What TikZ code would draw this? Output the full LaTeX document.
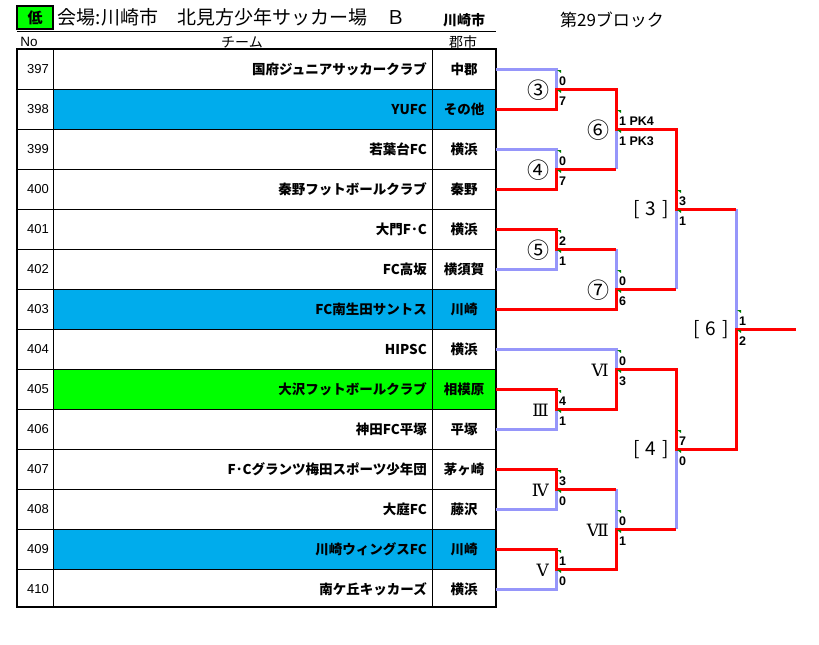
\documentclass[tikz,border=0pt]{standalone}
\usepackage{fontspec}
\setmainfont{Noto Sans CJK JP}
\newfontfamily\latinfont{Liberation Sans}
\newfontfamily\romfont{DejaVu Serif}
\usetikzlibrary{positioning}
\definecolor{rowblue}{RGB}{0,172,236}
\definecolor{rowgreen}{RGB}{0,255,0}
\definecolor{winred}{RGB}{255,0,0}
\definecolor{loselav}{RGB}{150,150,250}
\definecolor{tagdkgreen}{RGB}{0,128,0}

\begin{document}
\begin{tikzpicture}[x=1pt,y=-1pt,
  teamtxt/.style={anchor=east,inner sep=0pt,font=\fontsize{13.5}{15}\selectfont\bfseries},
  citytxt/.style={inner sep=0pt,font=\fontsize{13.5}{15}\selectfont\bfseries},
  notxt/.style={anchor=east,inner sep=0pt,font=\latinfont\fontsize{13}{15}\selectfont},
  score/.style={anchor=west,inner sep=0pt,font=\latinfont\fontsize{12.5}{14}\selectfont\bfseries},
  matchlbl/.style={anchor=east,inner sep=0pt,font=\fontsize{19}{21}\selectfont},
  win/.style={winred,line width=3pt},
  lose/.style={loselav,line width=3pt}]
\useasboundingbox (0,0) rectangle (819,645);
% Header
\node[draw,fill=rowgreen,line width=1.5pt,minimum width=36,minimum height=23,inner sep=0pt,
      font=\fontsize{15}{17}\selectfont\bfseries] (low) at (35,17.5) {低};
\node[right=4pt of low,inner sep=0pt,font=\fontsize{19}{21}\selectfont] (venue)
      {会場:川崎市　北見方少年サッカー場　Ｂ};
\node[citytxt,font=\fontsize{14}{16}\selectfont\bfseries] (hcity) at (464,20) {川崎市};
\draw (17,31) -- (496,31);
\node[font=\fontsize{17}{19}\selectfont] (block) at (612,20) {第29ブロック};
\node[font=\latinfont\fontsize{13.5}{15}\selectfont] (hno) at (29,42) {No};
\node[font=\fontsize{14}{16}\selectfont] (hteam) at (242,42) {チーム};
\node[font=\fontsize{14}{16}\selectfont] (harea) at (463,42) {郡市};
% Row colours
\foreach \i/\col in {2/rowblue,7/rowblue,9/rowgreen,13/rowblue} {
  \fill[\col] (53,9+40*\i) rectangle (496,49+40*\i);
}
% Table lines
\foreach \i in {1,...,13} {
  \draw (17,49+40*\i) -- (496,49+40*\i);
}
\draw (53,49) -- (53,607);
\draw (432,49) -- (432,607);
\draw[line width=1.2pt] (17,49) rectangle (496,607);
% Teams
\foreach \n/\t/\c [count=\i] in {
  397/国府ジュニアサッカークラブ/中郡, 398/YUFC/その他,
  399/若葉台FC/横浜, 400/秦野フットボールクラブ/秦野,
  401/大門F･C/横浜, 402/FC高坂/横須賀,
  403/FC南生田サントス/川崎, 404/HIPSC/横浜,
  405/大沢フットボールクラブ/相模原, 406/神田FC平塚/平塚,
  407/F･Cグランツ梅田スポーツ少年団/茅ヶ崎, 408/大庭FC/藤沢,
  409/川崎ウィングスFC/川崎, 410/南ケ丘キッカーズ/横浜} {
  \node[notxt] (no\n) at (49,29+40*\i) {\n};
  \node[teamtxt] (team\n) at (427,29+40*\i) {\t};
  \node[citytxt] (city\n) at (464,29+40*\i) {\c};
  \coordinate (e\n) at (496,29+40*\i);
}
% Match points
\foreach \m/\x/\y in {m3/556/89, m4/556/169, m5/556/249, m6/616/129, m7/616/289,
  k3/676/209, r3/556/409, r4/556/489, r5/556/569, r6/616/369, r7/616/529,
  k4/676/449, k6/736/329} {
  \coordinate (\m) at (\x,\y);
}
\coordinate (champ) at (796,329);
% Losing lines
\draw[lose] (e397) -| (m3);
\draw[lose] (e399) -| (m4);
\draw[lose] (e402) -| (m5);
\draw[lose] (e404) -| (r6);
\draw[lose] (e406) -| (r3);
\draw[lose] (e408) -| (r4);
\draw[lose] (e410) -| (r5);
\draw[lose] (m4 -| m6) -- (m6);
\draw[lose] (m5 -| m7) -- (m7);
\draw[lose] (m7 -| k3) -- (k3);
\draw[lose] (r4 -| r7) -- (r7);
\draw[lose] (r7 -| k4) -- (k4);
\draw[lose] (k3 -| k6) -- (k6);
% Winning lines
\draw[win] (e398) -| (m3) -| (m6) -| (k3) -- (k3 -| k6);
\draw[win] (e400) -| (m4) -- (m4 -| m6);
\draw[win] (e401) -| (m5) -- (m5 -| m7);
\draw[win] (e403) -| (m7) -- (m7 -| k3);
\draw[win] (e405) -| (r3) -| (r6) -| (k4) -| (k6) -- (champ);
\draw[win] (e407) -| (r4) -- (r4 -| r7);
\draw[win] (e409) -| (r5) -| (r7) -- (r7 -| k4);
% Scores
\foreach \m/\a/\b in {m3/0/7, m4/0/7, m5/2/1, m6/1 PK4/1 PK3, m7/0/6, k3/3/1,
  r3/4/1, r4/3/0, r5/1/0, r6/0/3, r7/0/1, k4/7/0, k6/1/2} {
  \node[score] (\m-a) at ([xshift=3pt,yshift=8pt]\m) {\a};
  \node[score] (\m-b) at ([xshift=3pt,yshift=-12pt]\m) {\b};
  \fill[tagdkgreen] ([xshift=1pt,yshift=19pt]\m) -- ++(4,0) -- ++(0,3) -- cycle;
  \fill[tagdkgreen] ([xshift=1pt,yshift=-1pt]\m) -- ++(4,0) -- ++(0,3) -- cycle;
}
% Match labels
\foreach \m/\lbl in {m3/③, m4/④, m5/⑤, m6/⑥, m7/⑦} {
  \node[matchlbl,font=\fontsize{22}{24}\selectfont] (\m-lbl) at ([xshift=-6pt,yshift=-1pt]\m) {\lbl};
}
\foreach \m/\lbl in {k3/3, k4/4, k6/6} {
  \node[matchlbl] (\m-lbl) at ([xshift=-7pt,yshift=-1pt]\m) {[\hspace{6pt}\lbl\hspace{6pt}]};
}
\foreach \m/\lbl in {r3/Ⅲ, r4/Ⅳ, r5/Ⅴ, r6/Ⅵ, r7/Ⅶ} {
  \node[matchlbl,font=\romfont\fontsize{17}{19}\selectfont] (\m-lbl) at ([xshift=-7pt,yshift=-1pt]\m) {\lbl};
}
\end{tikzpicture}
\end{document}
